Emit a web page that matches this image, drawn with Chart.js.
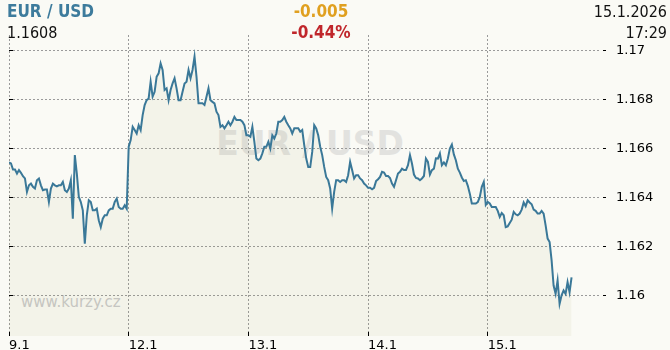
<!DOCTYPE html>
<html><head><meta charset="utf-8">
<script src="https://cdn.jsdelivr.net/npm/chart.js@4"></script>
<style>
html,body{margin:0;padding:0;background:#fafaf5;}
#wrap{position:relative;width:670px;height:350px;overflow:hidden;background:#fafaf5;}
canvas{position:absolute;left:0;top:0;}
.t{position:absolute;white-space:nowrap;font-family:'DejaVu Sans Condensed','DejaVu Sans',sans-serif;font-stretch:condensed;}
#wm{left:0;width:620px;text-align:center;top:127px;font-family:'DejaVu Sans',sans-serif;font-stretch:normal;font-weight:bold;font-size:33px;line-height:33px;color:#e2e2df;}
#site{left:21px;top:295px;font-family:'DejaVu Sans',sans-serif;font-stretch:normal;font-size:15px;line-height:15px;color:#c8c8c8;}
#pair{left:7px;top:3px;font-weight:bold;font-size:17px;line-height:17px;color:#3d7b9c;}
#chg{left:221px;width:200px;text-align:center;top:3px;font-weight:bold;font-size:17px;line-height:17px;color:#e0a020;}
#pct{left:221px;width:200px;text-align:center;top:24px;font-weight:bold;font-size:17px;line-height:17px;color:#c0262b;}
#last{left:7px;top:25px;font-size:16px;line-height:16px;color:#111;}
#date{right:3px;top:4px;font-size:16px;line-height:16px;color:#111;}
#time{right:3px;top:25px;font-size:16px;line-height:16px;color:#111;}
</style></head>
<body><div id="wrap">
<div class="t" id="wm">EUR / USD</div>
<div class="t" id="site">www.kurzy.cz</div>
<canvas id="c" width="670" height="350"></canvas>
<div class="t" id="pair">EUR / USD</div>
<div class="t" id="chg">-0.005</div>
<div class="t" id="pct">-0.44%</div>
<div class="t" id="last">1.1608</div>
<div class="t" id="date">15.1.2026</div>
<div class="t" id="time">17:29</div>
</div>
<script>
const dayLabels = ['9.1', '12.1', '13.1', '14.1', '15.1'];
const dayTicks = [0, 1, 2, 3, 4];
const yTickValues = [1.16, 1.162, 1.164, 1.166, 1.168, 1.17];
const yTickLabels = ['1.16', '1.162', '1.164', '1.166', '1.168', '1.17'];
const pointsPerDay = 60;

const day1 = [1.16543, 1.16539, 1.16514, 1.16514, 1.16498, 1.16512, 1.16501, 1.16487, 1.16478, 1.16423,
  1.1645, 1.16457, 1.16444, 1.16437, 1.16471, 1.16478, 1.1645, 1.1643, 1.16433, 1.16433,
  1.16382, 1.16437, 1.16457, 1.1645, 1.16446, 1.1645, 1.1645, 1.16464, 1.1643, 1.16423,
  1.16437, 1.16471, 1.16314, 1.16573, 1.16498, 1.16403, 1.16382, 1.16348, 1.16212, 1.16328,
  1.16389, 1.16382, 1.16348, 1.16348, 1.16355, 1.16308, 1.1628, 1.16314, 1.16328, 1.16328,
  1.16348, 1.16355, 1.16355, 1.16382, 1.16396, 1.16362, 1.16355, 1.16355, 1.16369, 1.16355];
const day2 = [1.16607, 1.16634, 1.16688, 1.16675, 1.16661, 1.16695, 1.16675, 1.16736, 1.16777, 1.16797,
  1.16804, 1.16872, 1.16811, 1.16831, 1.16892, 1.16906, 1.16947, 1.1692, 1.16838, 1.16845,
  1.16797, 1.16838, 1.16865, 1.16886, 1.16845, 1.16797, 1.16797, 1.16831, 1.16865, 1.16872,
  1.1692, 1.16886, 1.1692, 1.16974, 1.16892, 1.16784, 1.16784, 1.16784, 1.16777, 1.16811,
  1.16845, 1.16797, 1.1679, 1.16784, 1.1675, 1.16736, 1.16688, 1.16695, 1.16682, 1.16695,
  1.16709, 1.16695, 1.16709, 1.16729, 1.16716, 1.16716, 1.16716, 1.16709, 1.16695, 1.16654];
const day3 = [1.16654, 1.16648, 1.16688, 1.16627, 1.16559, 1.16552, 1.16559, 1.1658, 1.16607, 1.16607,
  1.16627, 1.166, 1.16654, 1.16641, 1.16661, 1.16709, 1.16709, 1.16716, 1.16729, 1.16709,
  1.16695, 1.16682, 1.16661, 1.16682, 1.16682, 1.16682, 1.16668, 1.16675, 1.16614, 1.16559,
  1.16525, 1.16525, 1.16586, 1.16695, 1.16682, 1.16654, 1.16607, 1.16573, 1.16525, 1.16484,
  1.16471, 1.16437, 1.16355, 1.16423, 1.16471, 1.16471, 1.16464, 1.16471, 1.16471, 1.16464,
  1.16491, 1.16545, 1.16512, 1.16478, 1.16491, 1.16491, 1.16478, 1.16471, 1.16457, 1.1645];
const day4 = [1.1644, 1.1644, 1.16434, 1.1644, 1.16467, 1.16475, 1.16484, 1.16505, 1.16502, 1.16488,
  1.16488, 1.1648, 1.16457, 1.16444, 1.16471, 1.16498, 1.16505, 1.16518, 1.16512, 1.16512,
  1.16532, 1.16573, 1.16539, 1.16494, 1.1648, 1.16478, 1.16471, 1.16478, 1.16488, 1.16559,
  1.16546, 1.16494, 1.16512, 1.16518, 1.1656, 1.16559, 1.1658, 1.16532, 1.16543, 1.16532,
  1.16559, 1.166, 1.16616, 1.16576, 1.16552, 1.16518, 1.16502, 1.16482, 1.16468, 1.16471,
  1.16448, 1.16416, 1.16376, 1.16376, 1.16376, 1.16382, 1.16403, 1.16444, 1.16464, 1.1637];
const day5 = [1.16382, 1.16376, 1.16362, 1.16362, 1.16362, 1.16346, 1.16321, 1.16337, 1.16328, 1.1628,
  1.16283, 1.16297, 1.1631, 1.16342, 1.16332, 1.16328, 1.16335, 1.16351, 1.1638, 1.16365,
  1.16389, 1.1638, 1.16373, 1.16351, 1.16346, 1.16335, 1.16335, 1.16346, 1.16335, 1.16287,
  1.16233, 1.16219, 1.16144, 1.16042, 1.16008, 1.16063, 1.15967, 1.16002, 1.16022, 1.16008,
  1.16056, 1.16015, 1.16075];

const days = [day1, day2, day3, day4, day5];
const points = [];
days.forEach((arr, d) => arr.forEach((v, j) => points.push({x: d + j / pointsPerDay, y: v})));

const tickMarks = {
  id: 'tickMarks',
  afterDatasetsDraw(chart) {
    const {ctx, chartArea: a, scales: {x, y}} = chart;
    ctx.save();
    ctx.fillStyle = '#000';
    y.ticks.forEach(t => {
      const py = Math.round(y.getPixelForValue(t.value) - 0.5);
      ctx.fillRect(a.left, py, 4, 1);
      ctx.fillRect(a.right + 2, py, 3, 1);
    });
    x.ticks.forEach(t => {
      const px = Math.round(x.getPixelForValue(t.value) - 0.5);
      ctx.fillRect(px, a.bottom - 4, 1, 4);
    });
    ctx.restore();
  }
};

new Chart(document.getElementById('c'), {
  type: 'line',
  data: {
    datasets: [{
      data: points,
      borderColor: '#3a7898',
      borderWidth: 2,
      pointRadius: 0,
      tension: 0,
      fill: 'start',
      backgroundColor: 'rgba(163,163,108,0.08)'
    }]
  },
  options: {
    responsive: false,
    animation: false,
    devicePixelRatio: 1,
    layout: {padding: {left: 9, top: 35, right: 0, bottom: 0}},
    plugins: {legend: {display: false}, tooltip: {enabled: false}},
    scales: {
      x: {
        type: 'linear',
        min: 0,
        max: 4.946,
        afterBuildTicks: s => { s.ticks = dayTicks.map(v => ({value: v})); },
        afterFit: s => { s.height = 14; s.paddingLeft = 0; s.paddingRight = 0; },
        ticks: {
          callback: (v, i) => dayLabels[i],
          autoSkip: false, maxRotation: 0, minRotation: 0,
          align: 'start', padding: 2, color: '#000',
          font: {family: 'DejaVu Sans', size: 13}
        },
        grid: {color: '#9a9a9a', lineWidth: 1, drawTicks: false},
        border: {display: false, dash: [2, 2]}
      },
      y: {
        type: 'linear',
        position: 'right',
        min: 1.158363,
        max: 1.170623,
        afterBuildTicks: s => { s.ticks = yTickValues.map(v => ({value: v})); },
        afterFit: s => { s.width = 69; s.paddingTop = 0; s.paddingBottom = 0; },
        ticks: {
          callback: (v, i) => yTickLabels[i],
          padding: 15, color: '#000',
          font: {family: 'DejaVu Sans', size: 13}
        },
        grid: {color: '#9a9a9a', lineWidth: 1, drawTicks: false},
        border: {display: false, dash: [2, 2]}
      }
    }
  },
  plugins: [tickMarks]
});
</script>
</body></html>
